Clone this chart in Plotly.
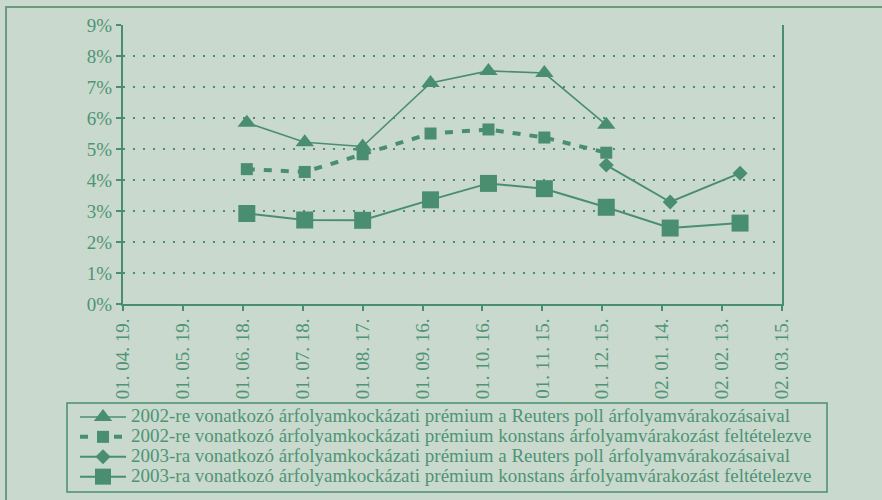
import plotly.graph_objects as go

# ---- data ----
dates_2002 = ["2001-06-20", "2001-07-19", "2001-08-17", "2001-09-20",
              "2001-10-19", "2001-11-16", "2001-12-17"]
dates_2003 = dates_2002 + ["2002-01-18", "2002-02-22"]
dates_2003_reuters = ["2001-12-17", "2002-01-18", "2002-02-22"]

prem_2002_reuters = [5.85, 5.22, 5.08, 7.13, 7.52, 7.45, 5.78]
prem_2002_konst = [4.35, 4.26, 4.83, 5.50, 5.63, 5.37, 4.88]
prem_2003_reuters = [4.48, 3.29, 4.22]
prem_2003_konst = [2.92, 2.71, 2.70, 3.36, 3.89, 3.72, 3.12, 2.45, 2.61]

names = [
    "2002-re vonatkozó árfolyamkockázati prémium a Reuters poll árfolyamvárakozásaival",
    "2002-re vonatkozó árfolyamkockázati prémium konstans árfolyamvárakozást feltételezve",
    "2003-ra vonatkozó árfolyamkockázati prémium a Reuters poll árfolyamvárakozásaival",
    "2003-ra vonatkozó árfolyamkockázati prémium konstans árfolyamvárakozást feltételezve",
]

y_ticks = list(range(0, 10))
y_tick_labels = [f"{v}%" for v in y_ticks]
x_range = ["2001-04-19", "2002-03-15"]

# ---- style ----
GREEN = "#4a8e70"
TEXT = "#4f9474"
BG = "#c9d9ce"
FRAME = "#6c9a7a"
FONT = "Liberation Serif"
FS = 19


def lab(s):
    return f'<span style="font-size:{FS}px">' + s + "</span>"


fig = go.Figure()
fig.add_trace(go.Scatter(
    x=dates_2002, y=prem_2002_reuters, name=lab(names[0]), mode="lines+markers",
    line=dict(color=GREEN, width=1.6),
    marker=dict(symbol="triangle-up", size=16, color=GREEN)))
fig.add_trace(go.Scatter(
    x=dates_2002, y=prem_2002_konst, name=lab(names[1]), mode="lines+markers",
    line=dict(color=GREEN, width=4, dash="8px,9px"),
    marker=dict(symbol="square", size=12, color=GREEN)))
fig.add_trace(go.Scatter(
    x=dates_2003_reuters, y=prem_2003_reuters, name=lab(names[2]), mode="lines+markers",
    line=dict(color=GREEN, width=2),
    marker=dict(symbol="diamond", size=11.5, color=GREEN)))
fig.add_trace(go.Scatter(
    x=dates_2003, y=prem_2003_konst, name=lab(names[3]), mode="lines+markers",
    line=dict(color=GREEN, width=2),
    marker=dict(symbol="square", size=17, color=GREEN)))

fig.update_layout(
    width=882, height=500,
    margin=dict(l=123, r=100, t=25, b=196, autoexpand=False),
    paper_bgcolor=BG, plot_bgcolor=BG,
    font=dict(family=FONT, size=FS, color=TEXT),
    showlegend=True,
    legend=dict(
        xref="container", yref="container",
        x=75 / 882, y=1 - 402 / 500, xanchor="left", yanchor="top",
        bgcolor="rgba(0,0,0,0)", borderwidth=0,
        font=dict(family=FONT, size=13, color=TEXT),
        traceorder="normal", itemwidth=46,
    ),
    xaxis=dict(
        type="date", range=x_range,
        tick0=x_range[0], dtick=30 * 86400000,
        tickformat="%y. %m. %d.", tickangle=-90,
        ticks="outside", ticklen=5, tickwidth=1.5, tickcolor=GREEN,
        showline=True, linecolor=GREEN, linewidth=2,
        showgrid=False, zeroline=False,
        tickfont=dict(family=FONT, size=FS, color=TEXT),
    ),
    yaxis=dict(
        range=[0, 9], tickmode="array", tickvals=y_ticks, ticktext=y_tick_labels,
        ticks="outside", ticklen=5, tickwidth=1.5, tickcolor=GREEN,
        showline=True, linecolor=GREEN, linewidth=2, mirror=True,
        showgrid=True, gridcolor=GREEN, gridwidth=2, griddash="2px,8px",
        zeroline=False,
        tickfont=dict(family=FONT, size=FS, color=TEXT),
    ),
    shapes=[
        # outer frame of the figure
        dict(type="rect", xref="paper", yref="paper",
             x0=-0.1775, x1=1.4, y0=-0.9, y1=1.0645,
             line=dict(color=FRAME, width=2), layer="below"),
        # legend frame
        dict(type="rect", xref="paper", yref="paper",
             x0=(67 - 123) / 659, x1=(827 - 123) / 659,
             y0=(304 - 492) / 279, y1=(304 - 403) / 279,
             line=dict(color=GREEN, width=1.5), layer="below"),
    ],
)

fig.write_html("out.html", config={"displayModeBar": False},
               post_script="document.body.style.margin='0px';")
